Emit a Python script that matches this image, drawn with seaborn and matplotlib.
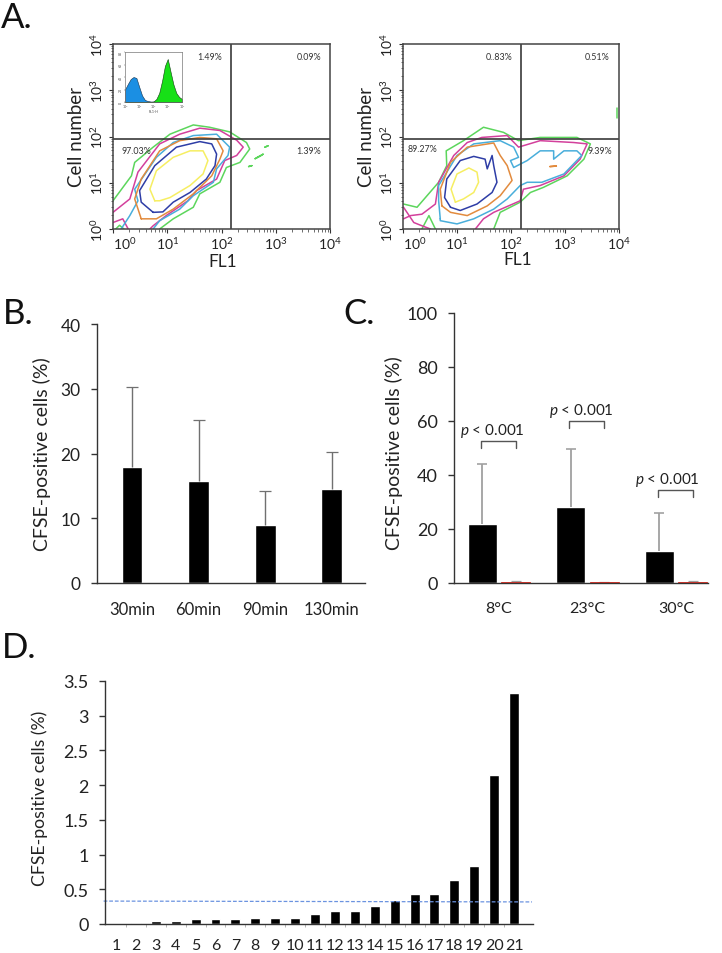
import numpy as np
import pandas as pd
import matplotlib
matplotlib.use("Agg")
import matplotlib.pyplot as plt
import matplotlib.ticker as mticker
import seaborn as sns

sns.set_theme(style="white")
plt.rcParams["font.family"] = ["Lato", "DejaVu Sans"]
plt.rcParams["mathtext.fontset"] = "custom"
plt.rcParams["mathtext.rm"] = "Lato"
plt.rcParams["mathtext.it"] = "Lato:italic"
plt.rcParams["mathtext.default"] = "regular"

# Panel B
times = ["30min", "60min", "90min", "130min"]
time_vals = [17.9, 15.8, 9.0, 14.5]
time_tops = [30.2, 25.2, 14.2, 20.2]
# Panel C
temps = ["8°C", "23°C", "30°C"]
temp_vals = [21.8, 28.0, 12.0]
temp_tops = [44.0, 49.6, 26.0]
ctrl_vals = [0.5, 0.4, 0.5]
ctrl_tops = [0.9, 0.5, 0.7]
p_text = r"$\it{p}$ < 0.001"
p_bracket_tops = [52.7, 60.0, 34.3]
# Panel D
donors = [str(i) for i in range(1, 22)]
donor_vals = [0, 0.02, 0.05, 0.05, 0.07, 0.07, 0.07, 0.08, 0.09, 0.09, 0.14,
              0.19, 0.19, 0.26, 0.35, 0.43, 0.43, 0.64, 0.84, 2.15, 3.32]
cutoff = 0.33
# Panel A: contours as (log10 FL1, log10 cell number)
colors = {"green": "#5cd65c", "magenta": "#d3409c", "cyan": "#49aedb",
          "orange": "#e28b3e", "blue": "#2e3da6", "yellow": "#f6ee62"}
left_contours = [
    ("green", [(0,.61),(.34,1.15),(.40,1.44),(.74,1.77),(1.05,2.05),(1.48,2.25),(1.78,2.20),(2.15,2.10),(2.46,1.87),(2.52,1.73),(2.34,1.44),(2.09,1.33),(1.97,1.01),(1.60,.76),(1.48,.47),(1.11,.22),(.86,0)]),
    ("green", [(.05,0),(.12,.08),(.2,0)]),
    ("magenta", [(0,.36),(.31,.65),(.46,1.23),(.86,1.84),(1.23,2.05),(1.60,2.18),(1.97,2.13),(2.28,1.92),(2.40,1.77),(2.28,1.59),(2.06,1.48),(1.91,1.08),(1.54,.83),(1.38,.61),(.98,.29),(.74,.07),(.68,0)]),
    ("magenta", [(0,.14),(.18,.22),(.28,0)]),
    ("cyan", [(.15,0),(.31,.29),(.46,.61),(.40,.86),(.80,1.55),(1.11,1.87),(1.48,2.02),(1.91,2.05),(2.09,1.84),(2.15,1.77),(2.12,1.59),(1.91,1.30),(1.85,1.01),(1.48,.72),(1.23,.43),(.86,.18),(.74,0)]),
    ("orange", [(.52,.22),(.40,.65),(.52,1.08),(.86,1.69),(1.23,1.91),(1.60,1.98),(1.91,1.95),(2.03,1.69),(1.97,1.51),(1.82,1.15),(1.48,.76),(1.11,.43),(.80,.22),(.52,.22)]),
    ("blue", [(.74,.36),(.52,.58),(.49,.83),(.77,1.37),(1.17,1.77),(1.60,1.89),(1.82,1.84),(1.91,1.62),(1.88,1.37),(1.72,1.08),(1.42,.79),(1.11,.58),(.92,.37),(.74,.36)]),
    ("yellow", [(.77,.61),(.68,.86),(.80,1.26),(1.11,1.55),(1.42,1.69),(1.66,1.69),(1.75,1.48),(1.66,1.19),(1.42,.94),(1.05,.68),(.86,.61),(.77,.61)]),
    ("green", [(2.62,1.52),(2.72,1.58),(2.77,1.62),(2.66,1.55),(2.62,1.52)]),
    ("green", [(2.8,1.77),(2.86,1.8),(2.8,1.77)]),
    ("green", [(2.5,1.35),(2.56,1.37),(2.5,1.35)]),
]
right_contours = [
    ("green", [(.01,.54),(.26,.47),(.66,1.01),(.81,1.37),(.80,1.69),(1.12,1.91),(1.49,2.20),(1.86,2.09),(2.14,1.91),(2.54,1.98),(3.22,1.98),(3.47,1.84),(3.35,1.51),(3.04,1.15),(2.60,.90),(2.36,.79),(2.17,.58),(1.80,.36),(1.68,0)]),
    ("green", [(.35,0),(.48,.29),(.60,0)]),
    ("magenta", [(.01,.22),(.14,.29),(.35,.32),(.60,.54),(.66,1.01),(.94,1.59),(1.19,1.87),(1.46,1.98),(1.93,2.02),(2.14,1.77),(2.54,1.91),(3.16,1.87),(3.41,1.84),(3.28,1.51),(2.98,1.15),(2.54,.94),(2.23,.86),(2.17,.61),(1.68,.36),(1.49,.22),(1.34,0)]),
    ("magenta", [(.01,.47),(.20,.14),(.35,.07),(.51,0)]),
    ("cyan", [(.69,.22),(.66,.61),(.66,.94),(1.00,1.59),(1.31,1.84),(1.80,1.91),(2.05,1.77),(2.14,1.55),(1.99,1.48),(2.05,1.33),(2.30,1.48),(2.54,1.69),(2.79,1.69),(2.79,1.51),(2.98,1.69),(3.22,1.69),(3.31,1.59),(2.98,1.19),(2.57,1.01),(2.30,1.01),(2.17,.94),(1.93,.65),(1.68,.43),(1.31,.22),(1.00,.11),(.69,.18),(.69,.22)]),
    ("orange", [(.72,.50),(.69,.86),(.88,1.44),(1.19,1.77),(1.68,1.86),(1.80,1.59),(1.93,1.37),(2.02,1.05),(1.80,.72),(1.56,.50),(1.19,.29),(.88,.36),(.72,.50)]),
    ("blue", [(.88,.47),(.77,.68),(.81,1.08),(1.06,1.48),(1.31,1.57),(1.52,1.51),(1.56,1.30),(1.65,1.59),(1.68,1.37),(1.74,1.01),(1.65,.79),(1.37,.54),(1.06,.40),(.88,.47)]),
    ("yellow", [(.97,.58),(.89,.86),(1.00,1.19),(1.22,1.32),(1.37,1.23),(1.40,1.01),(1.31,.79),(1.12,.65),(.97,.58)]),
    ("orange", [(2.72,1.35),(2.84,1.36),(2.72,1.35)]),
    ("green", [(3.97,2.4),(3.97,2.62)]),
]
left_pcts = ["1.49%", "0.09%", "97.03%", "1.39%"]
right_pcts = ["0..83%", "0.51%", "89.27%", "9.39%"]
gate_x, gate_y = 150, 88
# inset histogram: log10 FL1 bin, counts
hist_x = [0, .2, .4, .6, .8, 1.0, 1.2, 1.4, 1.6, 1.8, 2.0, 2.2, 2.4, 2.6, 2.8, 3.0, 3.2, 3.4, 3.6, 3.8, 4.0]
hist_blue = [.25, .36, .46, .50, .48, .30, .13, .04, .02, .01, .01, 0, 0, 0, 0, 0, 0, 0, 0, 0, 0]
hist_green = [0, 0, 0, 0, 0, 0, 0, 0, 0, 0, .01, .06, .18, .42, .72, .86, .60, .35, .18, .10, .06]

W, H = 722, 954
fig = plt.figure(figsize=(W / 100, H / 100), dpi=100)

def axes_px(l, t, r, b):
    return fig.add_axes([l / W, 1 - b / H, (r - l) / W, (b - t) / H])

DARK = "#222222"

def flow_panel(box, contours, pcts, pct_px, ylab_x, xlab_xy):
    ax = axes_px(*box)
    ax.set_xscale("log"); ax.set_yscale("log")
    for cname, pts in contours:
        df = pd.DataFrame({"x": [10 ** p[0] for p in pts], "y": [10 ** p[1] for p in pts]})
        sns.lineplot(data=df, x="x", y="y", sort=False, estimator=None, color=colors[cname],
                     lw=1.1, ax=ax, clip_on=True)
    ax.set_xlim(1, 1e4); ax.set_ylim(1, 1e4)
    ax.axvline(gate_x, color="#3a3a3a", lw=1.2)
    ax.axhline(gate_y, color="#3a3a3a", lw=1.2)
    for s in ax.spines.values():
        s.set_visible(True); s.set_color("#444444"); s.set_linewidth(1.1)
    ax.tick_params(which="major", bottom=True, left=True, length=3, width=.8, color="#333333",
                   labelsize=10, labelcolor=DARK)
    ax.tick_params(axis="x", which="major", pad=1.5)
    ax.tick_params(axis="y", which="major", pad=3)
    ax.tick_params(which="minor", bottom=True, left=True, length=1.8, width=.5, color="#333333")
    ax.xaxis.set_minor_locator(mticker.LogLocator(10, subs=range(2, 10), numticks=12))
    ax.yaxis.set_minor_locator(mticker.LogLocator(10, subs=range(2, 10), numticks=12))
    ax.set_xticks([1, 10, 100, 1000, 10000]); ax.set_yticks([1, 10, 100, 1000, 10000])
    ax.xaxis.set_minor_formatter(mticker.NullFormatter())
    ax.yaxis.set_minor_formatter(mticker.NullFormatter())
    for t in ax.get_yticklabels():
        t.set_rotation(90); t.set_va("center")
    ax.get_xticklabels()[0].set_ha("left")
    ax.set_xlabel(""); ax.set_ylabel("")
    for s, (px, py) in zip(pcts, pct_px):
        fig.text(px / W, 1 - py / H, s, fontsize=6.4, color="#333333", ha="center", va="center")
    fig.text(ylab_x / W, 1 - 137 / H, "Cell number", rotation=90, fontsize=13.5, color=DARK,
             ha="center", va="center")
    fig.text(xlab_xy[0] / W, 1 - xlab_xy[1] / H, "FL1", fontsize=12.5, color=DARK, ha="center", va="center")
    return ax

flow_panel((113, 45, 330, 230), left_contours, left_pcts,
           [(210, 57), (309, 57), (136, 151), (309, 152)], 77, (223, 262))
flow_panel((403, 45, 619, 230), right_contours, right_pcts,
           [(499, 57), (597, 57), (422, 150), (600, 151)], 367, (518, 260))

# inset
ins = axes_px(125, 53, 182, 103)
ins.fill_between(hist_x, hist_blue, color="#1b8fe3", lw=.4, ec="#15304a")
ins.fill_between(hist_x, hist_green, color="#17e017", lw=.4, ec="#103a10")
ins.set_xlim(0, 4); ins.set_ylim(0, 1)
ins.set_xticks([0, 1, 2, 3, 4]); ins.set_xticklabels(["10⁰", "10¹", "10²", "10³", "10⁴"], fontsize=2.5)
ins.set_yticks([0, .25, .5, .75, 1]); ins.set_yticklabels(["0", "20", "40", "60", "80"], fontsize=2.5, rotation=90, va="center")
ins.tick_params(length=1, width=.3, pad=.5, bottom=True, left=True, color="#444444", labelcolor="#444444")
ins.set_xlabel("FL1-H", fontsize=2.5, labelpad=.5, color="#444444")
ins.set_facecolor("none")
for s in ins.spines.values():
    s.set_visible(True); s.set_linewidth(.5); s.set_color("#777777")

def style_bar_axes(ax, size):
    sns.despine(ax=ax)
    for s in ("left", "bottom"):
        ax.spines[s].set_color("#333333"); ax.spines[s].set_linewidth(1.0)
    ax.tick_params(axis="y", left=True, length=4.3, width=1, color="#333333", labelsize=size, labelcolor=DARK, pad=7.5)
    ax.set_xlabel("")

def upper_errors(ax, xs, vals, tops, color, lw, cap):
    eb = ax.errorbar(xs, vals, yerr=[[0] * len(vals), [t - v for t, v in zip(tops, vals)]], fmt="none",
                     ecolor=color, elinewidth=lw, capsize=cap, capthick=lw * .9)
    eb[1][0].set_visible(False)

# B
axb = axes_px(97, 325, 365, 584)
sns.barplot(x=times, y=time_vals, color="black", width=.315, saturation=1, errorbar=None, ax=axb)
upper_errors(axb, range(len(times)), time_vals, time_tops, "#707070", 1.0, 4)
axb.set_xlim(-.526, 3.5); axb.set_ylim(0, 40)
axb.set_yticks([0, 10, 20, 30, 40])
style_bar_axes(axb, 12.5)
axb.tick_params(axis="x", bottom=False, labelsize=12, labelcolor=DARK, pad=7)
axb.set_ylabel("CFSE-positive cells (%)", fontsize=14, color=DARK, va="center")
axb.yaxis.set_label_coords((42 - 97) / 268, .5)

# C
axc = axes_px(454, 314, 708, 584)
dfc = pd.DataFrame({"t": temps * 2, "v": temp_vals + ctrl_vals,
                    "g": ["CFSE"] * 3 + ["ctrl"] * 3})
sns.barplot(data=dfc, x="t", y="v", hue="g", palette={"CFSE": "black", "ctrl": "#c0281f"},
            width=.752, gap=.133, saturation=1, errorbar=None, legend=False, ax=axc)
offs = .188
xc = np.arange(3)
upper_errors(axc, xc - offs, temp_vals, temp_tops, "#a0a0a0", 1.3, 3.3)
upper_errors(axc, xc + offs, ctrl_vals, ctrl_tops, "#a0a0a0", 1.0, 3.3)
for bar in axc.patches[3:]:
    bar.set_zorder(3); bar.set_edgecolor("#c0281f"); bar.set_linewidth(.6)
axc.set_xlim(-.508, 2.36); axc.set_ylim(0, 100)
axc.set_yticks([0, 20, 40, 60, 80, 100])
style_bar_axes(axc, 13)
axc.tick_params(axis="x", bottom=False, labelsize=11.5, labelcolor=DARK, pad=7)
axc.set_ylabel("CFSE-positive cells (%)", fontsize=14, color=DARK, va="center")
axc.yaxis.set_label_coords((394 - 454) / 254, .485)
p_shift = [-.07, -.07, -.10]
for i, top in enumerate(p_bracket_tops):
    axc.plot([i - offs - .02, i - offs - .02, i + offs, i + offs], [top - 2.6, top, top, top - 2.6],
             color="#555555", lw=1.0)
    axc.text(i + p_shift[i], top + 4.1, p_text, fontsize=11, color=DARK, ha="center", va="center")

# D
axd = axes_px(105, 682, 533, 925)
sns.barplot(x=donors, y=donor_vals, color="black", width=.5, saturation=1, errorbar=None, ax=axd)
axd.plot([-.62, 20.9], [cutoff, cutoff - .012], color="#6b93e0", lw=.9, ls=(0, (3, 1.5)), clip_on=False)
axd.set_xlim(-.55, 20.95); axd.set_ylim(0, 3.5)
axd.set_yticks([0, .5, 1, 1.5, 2, 2.5, 3, 3.5])
axd.set_yticklabels(["0", "0.5", "1", "1.5", "2", "2.5", "3", "3.5"])
style_bar_axes(axd, 13)
axd.tick_params(axis="x", which="major", bottom=False, labelsize=11.5, labelcolor=DARK, pad=4)
axd.set_xticks([i - .5 for i in range(1, 21)], minor=True)
axd.tick_params(axis="x", which="minor", bottom=True, length=2.5, width=.6, color="#aaaaaa")
axd.set_ylabel("CFSE-positive cells (%)", fontsize=12.7, color=DARK, va="center")
axd.yaxis.set_label_coords((40 - 105) / 428, .52)

for s, x, y in [("A.", 1, 18), ("B.", 3, 314), ("C.", 343, 314), ("D.", 2, 648)]:
    fig.text(x / W, 1 - y / H, s, fontsize=25, color="#111111", ha="left", va="center")

fig.savefig("out.png", dpi=100)
